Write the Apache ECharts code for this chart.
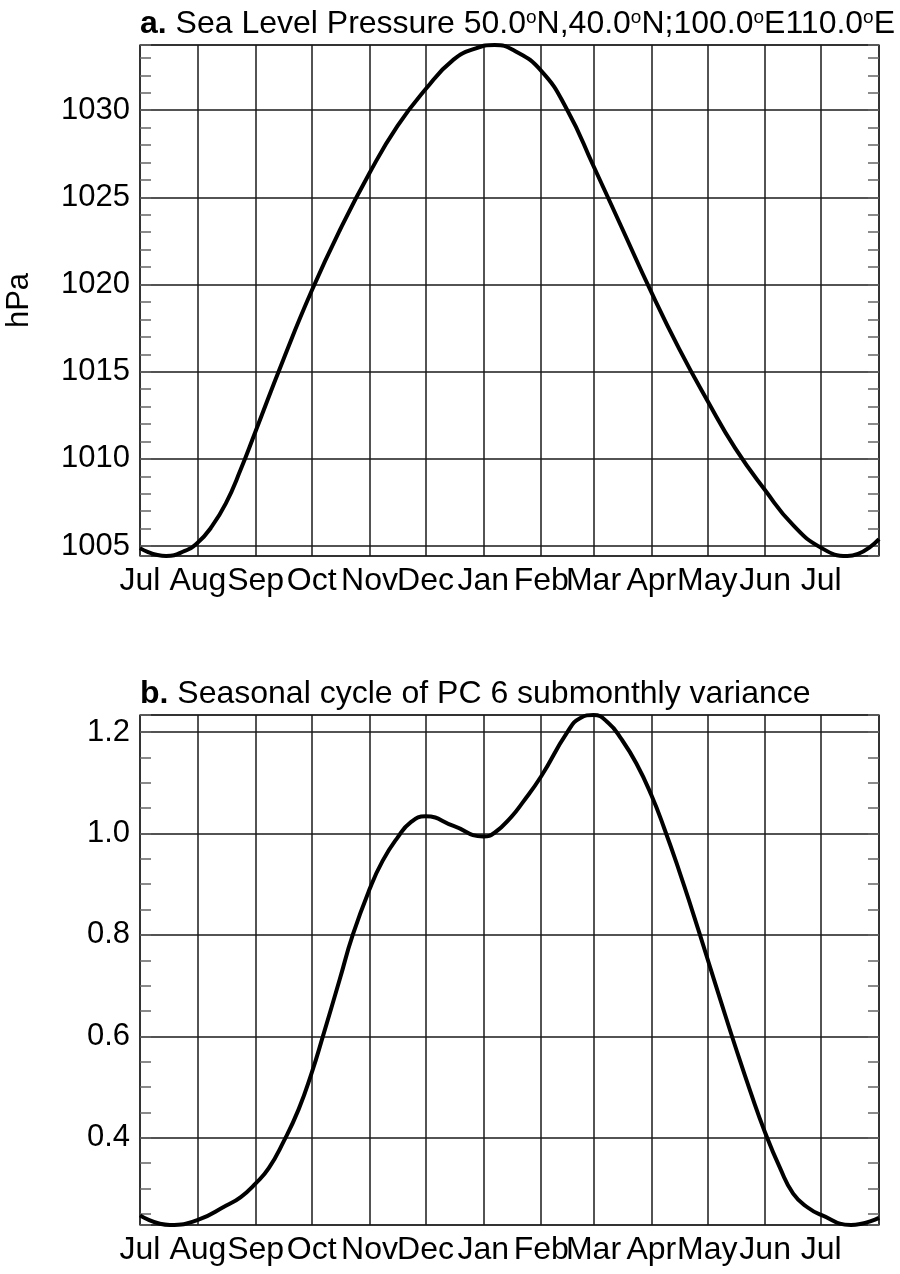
<!DOCTYPE html>
<html>
<head>
<meta charset="utf-8">
<script src="https://cdn.jsdelivr.net/npm/echarts@6/dist/echarts.min.js"></script>
<style>
  html, body { margin: 0; padding: 0; background: #fff; }
  #chart { width: 900px; height: 1274px; }
</style>
</head>
<body>
<div id="chart"></div>
<script>
// Month labels shown under each panel and the day-of-cycle where each month starts
// (day 0 = 1 Jul, 396 = 1 Aug of the following year).
const monthLabels = ['Jul', 'Aug', 'Sep', 'Oct', 'Nov', 'Dec', 'Jan', 'Feb', 'Mar', 'Apr', 'May', 'Jun', 'Jul'];
const monthStartDays = [0, 31, 62, 92, 123, 153, 184, 215, 243, 274, 304, 335, 365, 396];

// Panel a: sea level pressure (hPa), 50N-40N, 100E-110E
const slpDays = [0, 14, 24, 31, 38, 46, 54, 62, 77, 92, 107, 123, 138, 153, 168, 180, 190, 200, 215, 229,
                 243, 258, 274, 289, 304, 319, 335, 350, 365, 379, 396];
const slpValues = [1004.88, 1004.43, 1004.72, 1005.2, 1006.05, 1007.45, 1009.4, 1011.6, 1015.75, 1019.64,
                   1023.1, 1026.4, 1029.1, 1031.2, 1032.9, 1033.55, 1033.74, 1033.45, 1032.26, 1030.0,
                   1026.8, 1023.3, 1019.56, 1016.3, 1013.35, 1010.6, 1008.2, 1006.2, 1004.9, 1004.43,
                   1005.4];
const slpRange = [1004.43, 1033.74];

// Panel b: seasonal cycle of PC 6 submonthly variance
const varDays = [0, 16, 31, 46, 54, 62, 69, 77, 85, 92, 98, 107, 114, 123, 130, 138, 145, 153, 168, 184,
                 190, 199, 205, 215, 229, 236, 243, 251, 258, 266, 274, 281, 289, 296, 304, 311, 319,
                 327, 335, 343, 350, 358, 365, 381, 396];
const varValues = [0.247, 0.228, 0.238, 0.266, 0.283, 0.31, 0.34, 0.393, 0.456, 0.528, 0.6, 0.712, 0.8,
                   0.89, 0.946, 0.992, 1.022, 1.034, 1.015, 0.994, 1.0015, 1.033, 1.061, 1.113, 1.2,
                   1.228, 1.2337, 1.218, 1.186, 1.138, 1.076, 1.0095, 0.9255, 0.847, 0.754, 0.672,
                   0.58, 0.492, 0.41, 0.34, 0.29, 0.262, 0.248, 0.228, 0.242];
const varRange = [0.228, 1.2337];

const FONT = '"Liberation Sans", Arial, Helvetica, sans-serif';
const GRID_LINE = { color: '#1a1a1a', width: 1.5 };
const MINOR_LINE = { color: '#666', width: 1.5 };

const chart = echarts.init(document.getElementById('chart'), null, { renderer: 'canvas' });

function monthAxis(gridIndex) {
  return {
    type: 'value',
    gridIndex: gridIndex,
    min: monthStartDays[0],
    max: monthStartDays[monthStartDays.length - 1],
    axisLine: { show: false },
    axisTick: { show: false, customValues: monthStartDays },
    splitLine: { show: true, lineStyle: GRID_LINE },
    axisLabel: {
      customValues: monthStartDays.slice(0, monthLabels.length),
      formatter: function (v) { return monthLabels[monthStartDays.indexOf(v)]; },
      showMinLabel: true,
      showMaxLabel: true,
      fontSize: 32,
      fontFamily: FONT,
      color: '#000',
      margin: 9
    }
  };
}

function valueAxis(gridIndex, position, range, step, minorSplit, labelFmt, name) {
  const left = position === 'left';
  return {
    type: 'value',
    gridIndex: gridIndex,
    position: position,
    min: range[0],
    max: range[1],
    splitNumber: 5,
    minInterval: step,
    maxInterval: step,
    axisLine: { show: false },
    axisTick: { show: true, inside: true, length: 11, lineStyle: MINOR_LINE },
    minorTick: { show: true, splitNumber: minorSplit, length: 11, lineStyle: MINOR_LINE },
    splitLine: { show: left, lineStyle: GRID_LINE },
    axisLabel: {
      show: left,
      showMinLabel: false,
      showMaxLabel: false,
      formatter: labelFmt,
      fontSize: 31,
      fontFamily: FONT,
      color: '#000',
      margin: 10
    },
    name: name || '',
    nameLocation: 'middle',
    nameGap: 105,
    nameTextStyle: { fontSize: 31, fontFamily: FONT, color: '#000' }
  };
}

const titleRich = {
  b: { fontWeight: 'bold', fontSize: 32, fontFamily: FONT, color: '#000' },
  s: { fontSize: 19, fontFamily: FONT, color: '#000', verticalAlign: 'top' }
};

function curve(xIdx, yIdx, days, values) {
  return {
    type: 'line',
    xAxisIndex: xIdx,
    yAxisIndex: yIdx,
    data: days.map(function (d, i) { return [d, values[i]]; }),
    smooth: 0.5,
    showSymbol: false,
    clip: true,
    lineStyle: { color: '#000', width: 4 }
  };
}

function panelGrid(top, height) {
  return {
    left: 140, top: top, width: 739, height: height,
    outerBoundsMode: 'none',
    containLabel: false,
    show: true, borderColor: '#555', borderWidth: 1.5, backgroundColor: 'transparent'
  };
}

const option = {
  animation: false,
  backgroundColor: '#fff',
  title: [
    {
      text: '{b|a.} Sea Level Pressure 50.0{s|o}N,40.0{s|o}N;100.0{s|o}E110.0{s|o}E',
      left: 140, top: 8, padding: 0,
      textStyle: { fontSize: 32, fontWeight: 'normal', fontFamily: FONT, color: '#000', rich: titleRich }
    },
    {
      text: '{b|b.} Seasonal cycle of PC 6 submonthly variance',
      left: 140, top: 678, padding: 0,
      textStyle: { fontSize: 32, fontWeight: 'normal', fontFamily: FONT, color: '#000', rich: titleRich }
    }
  ],
  grid: [panelGrid(45, 511), panelGrid(715, 510)],
  xAxis: [monthAxis(0), monthAxis(1)],
  yAxis: [
    valueAxis(0, 'left', slpRange, 5, 5, function (v) { return String(v); }, 'hPa'),
    valueAxis(0, 'right', slpRange, 5, 5, null),
    valueAxis(1, 'left', varRange, 0.2, 4, function (v) { return v.toFixed(1); }),
    valueAxis(1, 'right', varRange, 0.2, 4, null)
  ],
  series: [
    curve(0, 0, slpDays, slpValues),
    curve(1, 2, varDays, varValues)
  ]
};

chart.setOption(option);
</script>
</body>
</html>
